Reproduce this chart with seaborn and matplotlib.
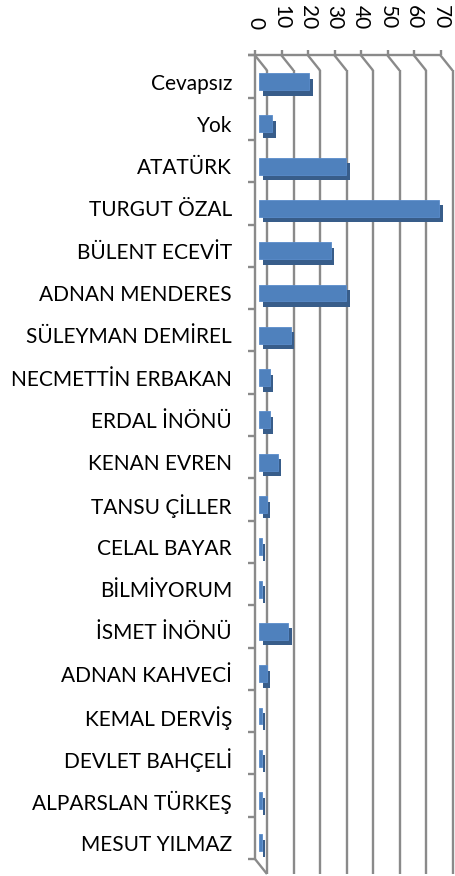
import matplotlib
matplotlib.use("Agg")
import matplotlib.pyplot as plt
import matplotlib.transforms as mtransforms
import numpy as np
import pandas as pd
import seaborn as sns

# Answers and their counts
categories = ["Cevapsız", "Yok", "ATATÜRK", "TURGUT ÖZAL", "BÜLENT ECEVİT",
              "ADNAN MENDERES", "SÜLEYMAN DEMİREL", "NECMETTİN ERBAKAN",
              "ERDAL İNÖNÜ", "KENAN EVREN", "TANSU ÇİLLER", "CELAL BAYAR",
              "BİLMİYORUM", "İSMET İNÖNÜ", "ADNAN KAHVECİ", "KEMAL DERVİŞ",
              "DEVLET BAHÇELİ", "ALPARSLAN TÜRKEŞ", "MESUT YILMAZ"]
values = [19, 5, 33, 68, 27, 33, 12, 4, 4, 7, 3, 1, 1, 11, 3, 1, 1, 1, 1]
value_ticks = [0, 10, 20, 30, 40, 50, 60, 70]

sns.set_theme(style="white")
plt.rcParams["font.family"] = ["Lato", "DejaVu Sans"]
FS = 15

W, H, DPI = 456, 876, 100
fig = plt.figure(figsize=(W / DPI, H / DPI), dpi=DPI)

# axes = the plane in which the bars sit
left_px, right_px = 259, 444.5
top_px, bot_px = 60.4, 864.0
ax = fig.add_axes([left_px / W, 1 - bot_px / H,
                   (right_px - left_px) / W, (bot_px - top_px) / H])
ax.set_xlim(0, 70)
n = len(categories)
ax.set_ylim(n - 0.5, -0.5)

FRONT = (-4, -5)   # pixel shift (right, down) to the front plane
BACK = (8, 10)     # pixel shift to the back wall
GRID = "#8a8a8a"
LW = 1.7


def shifted(x, y, dx, dy):
    """Data point moved by (dx, dy) screen pixels (dy positive = down)."""
    px, py = ax.transData.transform((x, y))
    return ax.transData.inverted().transform((px + dx, py - dy))


def seg(p0, p1, **kw):
    ax.plot([p0[0], p1[0]], [p0[1], p1[1]], color=GRID, lw=LW,
            solid_capstyle="butt", clip_on=False, **kw)


y_top, y_bot = -0.5, n - 0.5

# back wall gridlines and the slanted edges of the top wall
for k in value_ticks:
    seg(shifted(k, y_top, *BACK), shifted(k, y_bot, *BACK), zorder=0.5)
    seg(shifted(k, y_top, *FRONT), shifted(k, y_top, *BACK), zorder=0.5)
    f = shifted(k, y_top, *FRONT)
    seg(f, shifted(k, y_top, FRONT[0], FRONT[1] - 5), zorder=0.5)
    lab = shifted(k, y_top, FRONT[0], FRONT[1] - 26)
    ax.text(lab[0], lab[1], str(k), rotation=-90, ha="center", va="bottom",
            fontsize=FS, color="black", clip_on=False)

# front value axis line and left wall edge
seg(shifted(0, y_top, FRONT[0] - 7, FRONT[1]), shifted(70, y_top, *FRONT), zorder=0.6)
seg(shifted(0, y_top, *FRONT), shifted(0, y_bot, *FRONT), zorder=0.6)
seg(shifted(0, y_bot, *FRONT), shifted(0, y_bot, *BACK), zorder=0.6)
for b in np.arange(n + 1) - 0.5:
    seg(shifted(0, b, FRONT[0] - 7, FRONT[1]), shifted(0, b, *FRONT), zorder=0.6)

df = pd.DataFrame({"cevap": categories, "sayi": values})

# dark depth faces, drawn behind and shifted down-right
before = len(ax.patches)
sns.barplot(data=df, x="sayi", y="cevap", orient="h", order=categories,
            color="#385d8a", saturation=1, width=0.40, ax=ax, zorder=2)
shadow = mtransforms.ScaledTranslation(3.5 / DPI, -5.5 / DPI, fig.dpi_scale_trans)
for p in ax.patches[before:]:
    p.set_transform(ax.transData + shadow)
    p.set_linewidth(0)

# front faces
before = len(ax.patches)
sns.barplot(data=df, x="sayi", y="cevap", orient="h", order=categories,
            color="#4f81bd", saturation=1, width=0.40, ax=ax, zorder=3)
for p in ax.patches[before:]:
    p.set_linewidth(0.6)
    p.set_edgecolor("#5a8ccb")

ax.set_xlim(0, 70)
ax.set_ylim(n - 0.5, -0.5)
ax.set_xlabel("")
ax.set_ylabel("")
ax.set_xticks([])
ax.tick_params(axis="y", length=0, pad=19.5, labelsize=FS, labelcolor="black")
for s in ax.spines.values():
    s.set_visible(False)
ax.patch.set_alpha(0)

fig.savefig("out.png", dpi=DPI, facecolor="white")
